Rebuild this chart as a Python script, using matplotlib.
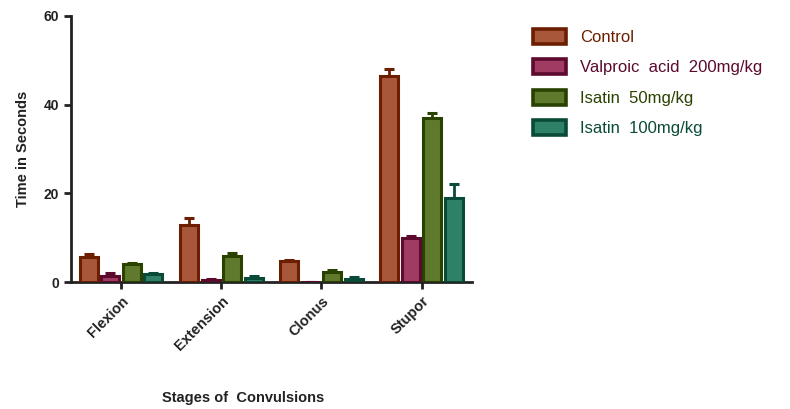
import numpy as np
import matplotlib.pyplot as plt

plt.rcParams['font.family'] = ['Liberation Sans', 'DejaVu Sans']

stages = ['Flexion', 'Extension', 'Clonus', 'Stupor']
groups = ['Control', 'Valproic  acid  200mg/kg', 'Isatin  50mg/kg', 'Isatin  100mg/kg']

control = [5.7, 13.0, 4.7, 46.5]
valproic = [1.5, 0.5, 0.0, 10.0]
isatin50 = [4.0, 6.0, 2.2, 37.0]
isatin100 = [1.8, 1.0, 0.8, 19.0]

control_err = [0.6, 1.5, 0.4, 1.5]
valproic_err = [0.5, 0.2, 0.0, 0.5]
isatin50_err = [0.4, 0.5, 0.5, 1.2]
isatin100_err = [0.3, 0.3, 0.3, 3.2]

faces = ['#A9573A', '#A03C64', '#5F7A2C', '#2E8066']
edges = ['#6B1E00', '#5C0A2E', '#2A4200', '#0A4A38']

fig = plt.figure(figsize=(7.9, 4.09), dpi=100)
ax = fig.add_axes([0.09, 0.31, 0.507, 0.651])

x = np.arange(len(stages))
width = 0.18
step = 0.215
series = [control, valproic, isatin50, isatin100]
errs = [control_err, valproic_err, isatin50_err, isatin100_err]

for i, (vals, err) in enumerate(zip(series, errs)):
    pos = x + (i - 1.5) * step
    ax.bar(pos, vals, width=width, color=faces[i], edgecolor=edges[i],
           linewidth=2.2, label=groups[i], zorder=3)
    ax.errorbar(pos, vals, yerr=[np.zeros(len(err)), err], fmt='none',
                ecolor=edges[i], elinewidth=2, capsize=3.5, capthick=2.2, zorder=2)

ax.set_xlim(-0.5, 3.5)
ax.set_ylim(0, 60)
ax.set_yticks([0, 20, 40, 60])
ax.set_xticks(x)
ax.set_xticklabels(stages, rotation=45, ha='right', rotation_mode='anchor',
                   fontweight='bold', fontsize=10.5)
for lab in ax.get_yticklabels():
    lab.set_fontweight('bold')
    lab.set_fontsize(10)

for s in ['top', 'right']:
    ax.spines[s].set_visible(False)
for s in ['left', 'bottom']:
    ax.spines[s].set_linewidth(2)
    ax.spines[s].set_color('#222222')
ax.tick_params(axis='both', width=2, length=5, color='#222222', labelcolor='#222222')

ax.set_ylabel('Time in Seconds', fontweight='bold', fontsize=10.5, color='#222222')
ax.yaxis.set_label_coords(-0.12, 0.5)
ax.yaxis.label.set_va('center')
ax.set_xlabel('Stages of  Convulsions', fontweight='bold', fontsize=10.5, color='#222222')
ax.xaxis.set_label_coords(0.43, -0.436)
ax.xaxis.label.set_va('center')

leg = ax.legend(loc='upper left', bbox_to_anchor=(533 / 790, 1 - 29 / 409),
                bbox_transform=fig.transFigure, frameon=False,
                fontsize=12, handlelength=2.0, handleheight=1.0,
                labelspacing=0.85, handletextpad=0.85,
                borderpad=0, borderaxespad=0)
for txt, c in zip(leg.get_texts(), edges):
    txt.set_color(c)
for patch in leg.get_patches():
    patch.set_linewidth(2.6)

fig.savefig('out.png', dpi=100)
